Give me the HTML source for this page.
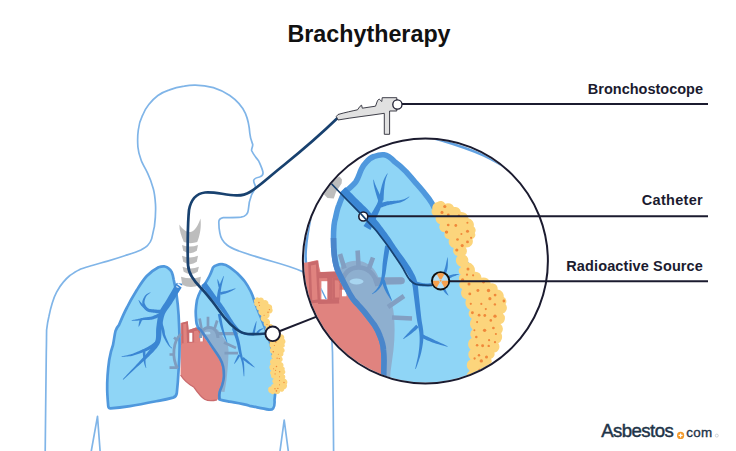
<!DOCTYPE html>
<html>
<head>
<meta charset="utf-8">
<style>
html,body{margin:0;padding:0;background:#fff;}
body{width:736px;height:451px;overflow:hidden;position:relative;}
svg{position:absolute;left:0;top:0;display:block;}
text{font-family:"Liberation Sans",sans-serif;}
</style>
</head>
<body>
<svg width="736" height="451" viewBox="0 0 736 451">
<defs>
  <clipPath id="slot1"><rect x="321.4" y="281.2" width="5.9" height="18.1"/></clipPath>
  <clipPath id="bigc"><circle cx="425.4" cy="261" r="121.5"/></clipPath>
</defs>
<rect width="736" height="451" fill="#fff"/>

<!-- ============ BODY OUTLINE ============ -->
<g fill="none" stroke="#80b5e8" stroke-width="1.7" stroke-linejoin="round" stroke-linecap="round">
  <path d="M45.2,451 C45.5,420 46,380 46.3,352 C46.5,345 46.5,337 46.6,330 C47.2,325 48,320 48.9,316.5 C50,311 51,307 52.2,303.2 C53.5,299 55,295 56.6,292.1 C58.5,288.5 60.8,285 63.3,282.1 C65.5,279.5 67.5,277.5 69.9,275.5 C73,273.3 75.8,271.3 78.8,269.9 C83,267.8 87.5,266.8 92.1,265.5 C97,264 102.5,262.6 107.6,261.1 C113.5,259.3 119.5,257.4 125.4,255.5 C130.5,253.9 136,252.3 140.9,250 C143.5,248.6 146,247.3 147.6,245.5 C149.5,243.4 151,241.3 151.6,238.9 C152.4,236 153.5,230 154.4,226.6 C155.5,218 155.8,210 155.5,204.4 C155,197 154.5,193 153.3,188.8 C151.5,182 149.5,177 147.7,173.3 C144.5,167 142,163 141.1,160 C139.6,156 138.3,152 137.9,147 C137.6,143 137.6,135 138.3,130 C138.9,125 140.5,119.5 142.4,115.7 C144,111.5 146,108 148.6,104.8 C151.5,101 154.5,98 157.9,95.5 C161.5,93 165,91.3 168.8,90.1 C174,88 179,86.8 184.3,86.2 C188,85.6 191,85.3 194.3,85.2 C208,85 220,89 229.8,95.5 C237,100.5 242,106 245.4,113.3 C248,119.5 249.3,126 249.8,133.3 C250.2,138 251.5,141 252.7,144.3 C253,147 251.3,148.5 251.6,150.5 C253.5,155 256.5,158 258.7,161 C260.5,165 262.5,169 263,172.5 C263.2,175 262,176.3 259.5,177 C256.5,177.6 254.5,178.3 253.8,180 C253,182.5 255.6,184.5 255.4,187 C255,190 252.5,192 251.5,195 C249.5,200 248.5,205 248.3,210 C248,214 245.5,216.5 240.9,217.2 C235,217.8 228,217.5 223.2,217.7 C220,218.2 218.8,220 218.8,222.1 C218.8,226 219.2,230 219.9,233.2 C220.5,237 223,242 227,245 C230,247.5 234,249 239,251 C250,255 262,258.5 273.4,261.8 C283,264.5 294,268 302.7,271.6 C310,275 316,279 320.7,283.8 C325,289 327.5,296 328.5,303.4 C330.5,318 331.8,335 332.5,352 C333,380 333.3,420 333.6,451"/>
  <path d="M91.3,451 L97.5,416.4 L100.1,451"/>
  <path d="M280,451 L284.2,420.2 L288.3,451"/>
</g>

<!-- ============ SPINE ============ -->
<g fill="#bdbdbd">
  <path d="M179.3,224.5 C183,229.5 186.5,232.5 190.5,232 C195,231 198.5,224.5 200.5,218.4 C201.5,227 200,235 197.2,242 C193,243.5 188,243.5 183.8,242 C181.3,236 179.3,230.5 179.3,224.5 Z"/>
  <path d="M182.0,245.0 Q190.0,248.2 198.0,245.0 L196.8,250.8 Q190.0,255.6 183.2,250.8 Z"/>
  <path d="M182.0,255.8 Q190.0,259.0 198.0,255.8 L196.8,261.8 Q190.0,266.6 183.2,261.8 Z"/>
  <path d="M182.5,266.8 Q190.7,270.0 198.9,266.8 L197.7,271.7 Q190.7,276.5 183.7,271.7 Z"/>
  <path d="M181.0,276.7 Q190.9,279.9 200.9,276.7 L199.7,284.7 Q190.9,289.5 182.2,284.7 Z"/>
</g>

<!-- ============ HEART (small) ============ -->
<g>
  <path d="M180.6,323 L187.8,321.3 L188.6,330 L196,327.5 L199,327.6 L205,338 C210,346 217,354 221,362 C224.5,370 225,383 223,392 C221.5,397 219.5,399.5 217,399.8 C213,400.8 208,401 204.6,399.2 C201,397 198,393 194,387.3 C190,385 184,380.5 180.6,375 Z" fill="#e0837f"/>
  <path d="M180.6,375 C184,380.5 190,385 194,387.3 C198,393 201,397 204.6,399.2 C208,401 213,400.8 217,399.8" fill="none" stroke="#c96a6c" stroke-width="1.3"/>
  <path d="M181.5,323 L187.8,321.3 L188.6,330 L196,327.5 L199,327.6 L203.5,336 L203.5,344 L181.5,345 Z" fill="#c96a6c"/>
  <path d="M183.2,324.2 L186.3,323.5 L187.1,343.5 L183.6,343.7 Z" fill="#e0837f"/>
  <path d="M194,331.2 L197.6,330.4 L199.8,334 L200,342.5 L194.2,342.8 Z" fill="#e0837f"/>
  <rect x="189.3" y="332.8" width="3" height="9" fill="#fff"/>
  <rect x="200.2" y="335.5" width="2.6" height="6.2" fill="#fff"/>
  <path d="M181.5,343.5 L204,341.5 L206,346 L182,347.5 Z" fill="#e0837f"/>
</g>

<!-- ============ LUNGS (small) ============ -->
<g stroke="#4f98dd" stroke-width="2.7" stroke-linejoin="round">
  <path fill="#8fd5f6" d="M164,266.3 C166,266.8 167.5,267.3 168.2,268.2 C170,269.5 171,270.5 171.7,272 C172.7,274.5 173.2,276.5 173.6,279.3 C174.8,284.5 175.8,290 176.6,295 C177.5,301.5 178.2,308 178.6,315 C179.2,325 179.5,335 179.6,345 C179.6,353 179.2,362 178.6,370 C178.2,378 177.6,386 176.8,393 C176.5,395.5 175,397 173,397.6 C168.5,398.8 164,399.8 159.7,400.6 C150,402.5 140,404.5 130,406.2 C123.5,407.2 117,408 110.5,408.4 C109,408.4 108.3,407.5 108.2,406 C107.7,400 107.3,395 107.2,390 C107,380 107.8,370 109.2,360 C110.2,354 111.5,349 113,345 C114,340 114.5,335 115.5,331 C116.5,328.5 117.5,326.5 119,325 C121.5,319 124,313 127,307.5 C130,301.5 133.5,295.5 137,289.8 C140,285 143,280 146.8,276 C150.5,272 154,269.5 158.5,267.2 C160.5,266.5 162,266.2 164,266.3 Z"/>
  <path fill="#8fd5f6" d="M216.5,265.2 C219,264.3 221,264 222,264.2 C225,264.5 227.5,265.8 229.5,267.2 C232,269 234.5,271 237,273 C239.8,275.8 242.5,278.5 244.8,281.5 C247,284.5 249,288 250.8,291.5 C252,294 253,296.5 253.8,299.3 C255.5,304 257,308 259,313 C262,320 265,328 268,336 C270.5,343 272.5,352 273.8,360 C275,368 275.8,376 275.8,384 C275.8,390 275,395 274.5,400 C274.8,404 274.7,406.5 273.2,408.3 C272.2,409.5 270.5,409.8 269,409.6 C262,408.5 256,407 249.5,405.8 C243,403.7 236,402.8 229.5,401.6 C226,401 222.5,400.5 219.5,399.5 C219,396 219.3,393 219.9,391.4 C221,388.5 222,386.5 222.4,384.8 C223.5,381 224,379 224,376.5 C224.2,372 223.8,369 223.2,366.5 C222.3,363 221.2,360.5 219.9,358.2 C217.8,354.8 215.5,351.5 213.3,348.3 C211,345 208.8,341.5 206.6,338.3 C204.6,335.5 202.5,332.5 200.8,330 C199.5,329 198.5,328.3 198,327.5 C196.5,324 196,322 196.2,320 C195.8,316 195.6,313 195.8,310 C196,306 196.5,303 197,300 C198,296 199,294 200.5,291 C202,288.5 203.5,286.5 205,284 C206.5,281.5 208,279 209.5,276 C211,273 212,270 213,267.5 C214,266.2 215,265.6 216.5,265.2 Z"/>
</g>
<!-- heart behind left lung (gray-blue) -->
<path d="M200.5,333 C203,326 212,324 218,330 L221,334 L222,335.5 C226,340 228.5,345 228.5,350 C228.5,360 227.5,372 226.5,380 C225.8,385 225,389 224.5,392 L219.9,391.4 C221,388.5 222,386.5 222.4,384.8 C223.5,381 224,379 224,376.5 C224.2,372 223.8,369 223.2,366.5 C222.3,363 221.2,360.5 219.9,358.2 C217.8,354.8 215.5,351.5 213.3,348.3 C211,345 208.8,341.5 206.6,338.3 C204.6,335.5 202.5,332.5 200.8,330 Z" fill="#8eafcf"/>
<!-- vessels gray-blue -->
<g fill="none" stroke="#7f9dbf" stroke-linecap="butt">
  <path d="M200.5,338 C200.5,331 204.5,327.5 209,327.5 C213.5,327.5 217.5,331 218,338" stroke-width="3"/>
  <path d="M201.6,329.5 L199.6,318.5 M208,327.5 L208,316.8 M214.3,329.5 L217.2,320.5" stroke-width="2.7"/>
  <path d="M217.5,333.6 L236.5,333.6" stroke-width="3.3" stroke-linecap="round"/>
  <path d="M224,342.5 L236,348 M224.5,353.2 L238,353.2" stroke-width="2.7"/>
  <path d="M181,334 C173,341 171.5,357 177.5,368.5" stroke-width="2.8"/>
  <path d="M169.5,354.5 L173.5,354.5 M169.5,367.6 L177,367.6 M174,337.5 L177.5,340.5" stroke-width="2.7"/>
</g>
<ellipse cx="207.6" cy="333.2" rx="3" ry="1.4" fill="#aad6f2"/>
<!-- lung medial edge (left lung) redraw -->
<path fill="none" stroke="#4a86cb" stroke-width="2.4" d="M219.5,399.5 C219,396 219.3,393 219.9,391.4 C221,388.5 222,386.5 222.4,384.8 C223.5,381 224,379 224,376.5 C224.2,372 223.8,369 223.2,366.5 C222.3,363 221.2,360.5 219.9,358.2 C217.8,354.8 215.5,351.5 213.3,348.3 C211,345 208.8,341.5 206.6,338.3 C204.6,335.5 202.5,332.5 200.8,330 C199.5,329 198.5,328.3 198,327.5"/>

<!-- bronchi small -->
<path fill="#3b86d3" d="M176.34,283.38 L177.07,282.72 L182.35,285.80 L181.72,283.50 L176.39,283.25 L176.04,283.70 L175.78,284.10 L175.42,284.68 L174.89,285.54 L174.17,286.79 L173.26,288.37 L172.20,290.21 L171.04,292.21 L169.83,294.28 L168.64,296.34 L167.50,298.29 L166.48,300.01 L165.56,301.50 L164.62,302.90 L163.67,304.28 L162.70,305.68 L161.74,307.13 L160.82,308.67 L159.96,310.32 L159.21,312.10 L158.58,313.97 L158.08,315.88 L157.67,317.80 L157.34,319.72 L157.05,321.64 L156.80,323.53 L156.57,325.38 L156.32,327.24 L156.14,329.19 L156.07,331.16 L156.06,333.06 L156.06,334.88 L156.02,336.61 L155.89,338.23 L155.65,339.72 L155.26,341.11 L154.72,342.48 L154.03,343.85 L153.18,345.22 L152.21,346.60 L151.14,347.99 L149.99,349.41 L148.79,350.86 L147.58,352.34 L146.40,353.80 L145.18,355.23 L143.90,356.66 L142.57,358.10 L141.19,359.57 L139.75,361.09 L138.26,362.67 L136.73,364.32 L135.03,366.15 L133.11,368.20 L131.08,370.35 L129.04,372.52 L127.08,374.60 L125.32,376.49 L123.86,378.09 L122.79,379.29 L123.21,379.71 L124.42,378.65 L126.03,377.20 L127.93,375.45 L130.02,373.52 L132.21,371.49 L134.38,369.47 L136.44,367.57 L138.27,365.88 L139.94,364.38 L141.56,362.96 L143.13,361.59 L144.66,360.25 L146.16,358.93 L147.62,357.60 L149.04,356.24 L150.42,354.86 L151.74,353.49 L153.05,352.14 L154.36,350.77 L155.64,349.36 L156.86,347.90 L158.01,346.35 L159.04,344.69 L159.94,342.89 L160.58,340.94 L160.99,338.96 L161.23,337.00 L161.35,335.07 L161.43,333.19 L161.52,331.37 L161.65,329.65 L161.88,327.96 L162.16,326.18 L162.45,324.34 L162.74,322.51 L163.05,320.72 L163.40,318.98 L163.80,317.32 L164.26,315.75 L164.79,314.30 L165.40,312.97 L166.11,311.71 L166.90,310.48 L167.79,309.22 L168.75,307.91 L169.78,306.52 L170.85,305.01 L171.92,303.39 L173.02,301.62 L174.21,299.68 L175.46,297.63 L176.71,295.58 L177.91,293.60 L179.02,291.79 L179.97,290.25 L180.71,289.06 L181.21,288.24 L181.52,287.75 L181.65,287.54 L181.48,287.75 L176.21,287.48 L175.57,285.26 L180.84,288.38 L181.66,287.62 Z"/>
<path fill="#3b86d3"  d="M162.94,310.01 L162.19,309.95 L161.18,309.88 L159.99,309.80 L158.68,309.72 L157.32,309.63 L156.00,309.53 L154.78,309.43 L153.72,309.31 L152.74,309.21 L151.82,309.14 L150.99,309.08 L150.26,309.01 L149.63,308.92 L149.08,308.78 L148.60,308.59 L148.13,308.31 L147.61,307.88 L147.04,307.31 L146.47,306.64 L145.93,305.89 L145.45,305.11 L145.04,304.32 L144.74,303.56 L144.56,302.88 L144.50,302.18 L144.55,301.39 L144.69,300.54 L144.92,299.65 L145.21,298.76 L145.55,297.90 L145.92,297.10 L146.28,296.41 L146.69,295.80 L147.20,295.22 L147.80,294.67 L148.45,294.15 L149.08,293.68 L149.67,293.26 L150.17,292.90 L150.54,292.61 L150.26,292.19 L149.87,292.41 L149.33,292.68 L148.67,293.00 L147.94,293.38 L147.18,293.82 L146.43,294.33 L145.72,294.92 L145.12,295.59 L144.59,296.33 L144.08,297.14 L143.58,298.04 L143.12,298.99 L142.73,299.99 L142.43,301.02 L142.26,302.07 L142.24,303.12 L142.39,304.18 L142.68,305.23 L143.09,306.28 L143.60,307.29 L144.18,308.26 L144.82,309.17 L145.52,309.98 L146.27,310.69 L147.10,311.28 L147.98,311.71 L148.87,312.00 L149.75,312.20 L150.63,312.33 L151.49,312.44 L152.36,312.55 L153.28,312.69 L154.39,312.85 L155.67,313.00 L157.03,313.14 L158.41,313.27 L159.73,313.38 L160.93,313.46 L161.93,313.54 L162.66,313.59 Z"/>
<path fill="#3b86d3"  d="M148.03,308.50 L147.61,308.15 L147.03,307.69 L146.35,307.17 L145.60,306.60 L144.81,306.00 L144.05,305.41 L143.34,304.84 L142.73,304.33 L142.19,303.81 L141.63,303.22 L141.08,302.60 L140.55,301.98 L140.05,301.39 L139.60,300.85 L139.21,300.40 L138.91,300.06 L138.49,300.34 L138.67,300.74 L138.90,301.29 L139.17,301.93 L139.50,302.65 L139.88,303.42 L140.30,304.19 L140.76,304.95 L141.27,305.67 L141.85,306.37 L142.53,307.09 L143.26,307.81 L144.02,308.50 L144.75,309.14 L145.41,309.70 L145.96,310.16 L146.37,310.50 Z"/>
<path fill="#3b86d3"  d="M158.83,313.44 L158.24,313.69 L157.46,314.05 L156.56,314.46 L155.58,314.91 L154.54,315.37 L153.51,315.80 L152.52,316.17 L151.62,316.46 L150.75,316.67 L149.83,316.84 L148.86,316.98 L147.87,317.09 L146.87,317.19 L145.87,317.30 L144.89,317.42 L143.95,317.57 L143.08,317.74 L142.27,317.92 L141.50,318.10 L140.76,318.29 L140.05,318.47 L139.34,318.65 L138.63,318.82 L137.89,318.99 L137.09,319.15 L136.22,319.32 L135.32,319.48 L134.42,319.65 L133.57,319.80 L132.81,319.94 L132.16,320.06 L131.68,320.15 L131.72,320.65 L132.21,320.65 L132.87,320.66 L133.65,320.67 L134.51,320.68 L135.43,320.68 L136.36,320.67 L137.26,320.65 L138.11,320.61 L138.89,320.56 L139.65,320.50 L140.40,320.42 L141.14,320.34 L141.88,320.25 L142.64,320.17 L143.43,320.10 L144.25,320.03 L145.12,319.99 L146.04,319.98 L147.03,319.97 L148.05,319.96 L149.11,319.93 L150.20,319.86 L151.29,319.73 L152.38,319.54 L153.50,319.24 L154.65,318.87 L155.80,318.44 L156.91,317.99 L157.95,317.54 L158.86,317.14 L159.61,316.80 L160.17,316.56 Z"/>
<path fill="#3b86d3"  d="M139.96,319.15 L139.84,319.51 L139.68,320.01 L139.51,320.60 L139.33,321.26 L139.16,321.95 L139.01,322.62 L138.89,323.24 L138.80,323.77 L138.73,324.23 L138.67,324.67 L138.62,325.08 L138.59,325.45 L138.56,325.79 L138.54,326.09 L138.52,326.34 L138.51,326.54 L138.89,326.66 L138.99,326.48 L139.12,326.26 L139.26,326.00 L139.43,325.71 L139.60,325.38 L139.79,325.02 L139.99,324.63 L140.20,324.23 L140.44,323.75 L140.71,323.18 L140.99,322.56 L141.27,321.91 L141.52,321.28 L141.74,320.70 L141.92,320.21 L142.04,319.85 Z"/>
<path fill="#3b86d3"  d="M159.07,322.46 L159.27,323.09 L159.55,323.95 L159.89,324.96 L160.26,326.08 L160.64,327.24 L161.02,328.38 L161.37,329.45 L161.65,330.36 L161.85,331.10 L161.99,331.76 L162.10,332.40 L162.21,333.06 L162.35,333.76 L162.54,334.54 L162.81,335.39 L163.19,336.34 L163.68,337.40 L164.29,338.59 L164.97,339.85 L165.71,341.15 L166.46,342.41 L167.20,343.60 L167.88,344.65 L168.50,345.52 L169.06,346.23 L169.60,346.80 L170.12,347.26 L170.60,347.62 L171.03,347.91 L171.40,348.14 L171.70,348.32 L171.94,348.49 L172.26,348.11 L172.04,347.89 L171.76,347.64 L171.44,347.36 L171.09,347.04 L170.71,346.64 L170.32,346.17 L169.91,345.58 L169.50,344.88 L169.05,343.97 L168.52,342.87 L167.95,341.62 L167.37,340.30 L166.79,338.97 L166.26,337.67 L165.79,336.48 L165.41,335.46 L165.16,334.64 L164.99,333.93 L164.89,333.30 L164.81,332.68 L164.75,332.03 L164.67,331.32 L164.54,330.53 L164.35,329.64 L164.09,328.65 L163.78,327.54 L163.44,326.36 L163.08,325.18 L162.73,324.05 L162.40,323.03 L162.13,322.17 L161.93,321.54 Z"/>
<path fill="#3b86d3"  d="M155.99,341.13 L155.44,341.54 L154.72,342.08 L153.86,342.73 L152.92,343.44 L151.94,344.18 L150.95,344.89 L150.01,345.55 L149.16,346.11 L148.38,346.57 L147.65,346.99 L146.95,347.37 L146.23,347.73 L145.47,348.09 L144.64,348.47 L143.71,348.89 L142.65,349.36 L141.44,349.91 L140.11,350.51 L138.69,351.16 L137.21,351.81 L135.72,352.46 L134.24,353.08 L132.81,353.64 L131.47,354.11 L130.13,354.52 L128.71,354.87 L127.27,355.19 L125.86,355.46 L124.54,355.71 L123.34,355.92 L122.33,356.10 L121.57,356.25 L121.63,356.75 L122.40,356.71 L123.42,356.68 L124.64,356.63 L126.00,356.57 L127.46,356.48 L128.97,356.34 L130.47,356.15 L131.93,355.89 L133.40,355.54 L134.94,355.11 L136.52,354.62 L138.10,354.10 L139.65,353.55 L141.14,353.01 L142.51,352.50 L143.75,352.04 L144.84,351.63 L145.81,351.26 L146.70,350.91 L147.53,350.56 L148.34,350.20 L149.14,349.81 L149.96,349.38 L150.84,348.89 L151.81,348.30 L152.85,347.62 L153.90,346.90 L154.93,346.16 L155.89,345.44 L156.76,344.80 L157.47,344.26 L158.01,343.87 Z"/>
<path fill="#3b86d3"  d="M142.70,351.07 L142.75,351.97 L142.83,353.20 L142.93,354.68 L143.07,356.30 L143.24,357.97 L143.43,359.59 L143.65,361.06 L143.87,362.30 L144.12,363.35 L144.40,364.30 L144.69,365.16 L144.99,365.93 L145.27,366.60 L145.53,367.18 L145.74,367.66 L145.91,368.05 L146.29,367.95 L146.23,367.52 L146.14,366.99 L146.02,366.37 L145.90,365.67 L145.78,364.89 L145.67,364.03 L145.58,363.10 L145.53,362.10 L145.50,360.90 L145.49,359.44 L145.48,357.84 L145.46,356.17 L145.43,354.56 L145.39,353.08 L145.34,351.83 L145.30,350.93 Z"/>
<path fill="#3b86d3"  d="M201.25,285.16 L201.92,286.06 L202.83,287.26 L203.93,288.70 L205.14,290.28 L206.41,291.94 L207.69,293.59 L208.90,295.14 L209.99,296.52 L210.98,297.76 L211.93,298.94 L212.86,300.06 L213.75,301.14 L214.63,302.19 L215.49,303.23 L216.35,304.28 L217.20,305.35 L218.07,306.45 L218.94,307.57 L219.81,308.70 L220.67,309.82 L221.52,310.93 L222.34,312.02 L223.14,313.09 L223.90,314.11 L224.62,315.09 L225.30,316.06 L225.96,317.00 L226.60,317.93 L227.23,318.84 L227.86,319.73 L228.48,320.61 L229.11,321.47 L229.72,322.29 L230.32,323.08 L230.90,323.84 L231.48,324.59 L232.06,325.33 L232.65,326.05 L233.26,326.76 L233.88,327.45 L234.50,328.13 L235.13,328.81 L235.76,329.49 L236.42,330.16 L237.10,330.81 L237.80,331.43 L238.53,332.01 L239.29,332.53 L240.05,333.00 L240.81,333.40 L241.59,333.77 L242.37,334.08 L243.18,334.37 L244.01,334.61 L244.87,334.83 L245.77,335.03 L246.79,335.20 L247.93,335.32 L249.12,335.41 L250.31,335.47 L251.44,335.51 L252.46,335.54 L253.31,335.57 L253.94,335.60 L254.06,334.00 L253.43,333.93 L252.57,333.85 L251.56,333.76 L250.44,333.64 L249.29,333.51 L248.17,333.36 L247.13,333.18 L246.23,332.97 L245.43,332.74 L244.66,332.49 L243.94,332.23 L243.25,331.94 L242.59,331.62 L241.95,331.28 L241.33,330.89 L240.71,330.47 L240.12,329.99 L239.54,329.47 L238.96,328.90 L238.39,328.28 L237.82,327.62 L237.26,326.94 L236.69,326.25 L236.12,325.55 L235.57,324.86 L235.05,324.16 L234.53,323.45 L234.02,322.72 L233.51,321.96 L232.98,321.18 L232.44,320.37 L231.89,319.53 L231.33,318.68 L230.78,317.80 L230.22,316.89 L229.65,315.95 L229.05,314.98 L228.43,313.98 L227.78,312.94 L227.10,311.89 L226.39,310.81 L225.64,309.69 L224.87,308.54 L224.08,307.37 L223.27,306.19 L222.45,305.00 L221.62,303.82 L220.80,302.65 L219.97,301.50 L219.15,300.38 L218.32,299.28 L217.50,298.18 L216.66,297.06 L215.80,295.92 L214.92,294.73 L214.01,293.48 L213.01,292.07 L211.88,290.48 L210.68,288.79 L209.48,287.09 L208.33,285.46 L207.29,283.99 L206.41,282.75 L205.75,281.84 Z"/>
<path fill="#3b86d3"  d="M220.00,302.71 L220.04,301.98 L220.10,300.99 L220.15,299.83 L220.21,298.54 L220.28,297.20 L220.35,295.87 L220.42,294.62 L220.52,293.50 L220.62,292.48 L220.73,291.52 L220.84,290.59 L220.97,289.67 L221.12,288.75 L221.28,287.82 L221.46,286.83 L221.67,285.80 L221.92,284.64 L222.22,283.35 L222.55,281.97 L222.90,280.59 L223.22,279.26 L223.52,278.05 L223.76,277.04 L223.94,276.28 L223.46,276.12 L223.14,276.82 L222.70,277.76 L222.17,278.89 L221.60,280.14 L221.02,281.46 L220.46,282.78 L219.96,284.05 L219.53,285.20 L219.18,286.24 L218.87,287.23 L218.58,288.18 L218.33,289.13 L218.09,290.08 L217.88,291.04 L217.68,292.04 L217.48,293.10 L217.30,294.29 L217.14,295.60 L217.01,296.97 L216.89,298.33 L216.79,299.63 L216.71,300.80 L216.65,301.77 L216.60,302.49 Z"/>
<path fill="#3b86d3"  d="M220.49,294.77 L221.05,294.64 L221.79,294.47 L222.69,294.26 L223.69,294.02 L224.75,293.74 L225.84,293.42 L226.91,293.08 L227.93,292.71 L228.94,292.29 L230.03,291.79 L231.14,291.24 L232.22,290.67 L233.25,290.11 L234.16,289.59 L234.92,289.16 L235.49,288.83 L235.31,288.37 L234.67,288.54 L233.82,288.78 L232.81,289.08 L231.70,289.41 L230.54,289.76 L229.38,290.10 L228.27,290.42 L227.27,290.69 L226.30,290.92 L225.25,291.14 L224.19,291.36 L223.14,291.57 L222.14,291.76 L221.25,291.94 L220.49,292.10 L219.91,292.23 Z"/>
<path fill="#3b86d3"  d="M220.56,286.74 L220.29,285.78 L219.99,284.83 L219.67,283.88 L219.32,282.94 L218.95,282.01 L218.56,281.08 L218.14,280.16 L217.69,279.25 L217.31,279.35 L217.39,280.36 L217.49,281.37 L217.62,282.37 L217.78,283.36 L217.96,284.35 L218.16,285.32 L218.38,286.30 L218.64,287.26 Z"/>
<path fill="#3b86d3"  d="M217.83,314.27 L218.03,315.27 L218.30,316.62 L218.63,318.23 L219.00,320.01 L219.41,321.86 L219.83,323.69 L220.25,325.39 L220.65,326.88 L221.03,328.19 L221.42,329.41 L221.81,330.55 L222.20,331.64 L222.60,332.68 L222.99,333.69 L223.38,334.67 L223.78,335.65 L224.20,336.65 L224.65,337.68 L225.11,338.70 L225.57,339.68 L226.00,340.58 L226.39,341.39 L226.72,342.07 L226.97,342.59 L227.43,342.41 L227.27,341.86 L227.04,341.13 L226.77,340.28 L226.47,339.32 L226.15,338.30 L225.83,337.24 L225.51,336.18 L225.22,335.15 L224.94,334.14 L224.66,333.13 L224.37,332.10 L224.08,331.05 L223.80,329.95 L223.51,328.81 L223.23,327.60 L222.95,326.32 L222.65,324.85 L222.33,323.16 L222.00,321.33 L221.66,319.49 L221.33,317.70 L221.03,316.09 L220.77,314.73 L220.57,313.73 Z"/>
<path fill="#3b86d3"  d="M231.89,328.56 L232.24,329.55 L232.71,330.88 L233.28,332.44 L233.90,334.18 L234.55,336.00 L235.18,337.84 L235.76,339.60 L236.26,341.22 L236.68,342.75 L237.06,344.30 L237.42,345.85 L237.75,347.41 L238.08,348.96 L238.41,350.50 L238.76,352.01 L239.12,353.50 L239.52,354.92 L239.94,356.26 L240.36,357.56 L240.77,358.81 L241.17,360.05 L241.55,361.31 L241.89,362.59 L242.20,363.94 L242.46,365.44 L242.71,367.13 L242.93,368.91 L243.12,370.70 L243.30,372.40 L243.46,373.95 L243.59,375.25 L243.70,376.22 L244.30,376.18 L244.30,375.21 L244.31,373.91 L244.31,372.35 L244.31,370.63 L244.29,368.82 L244.24,367.00 L244.15,365.25 L244.00,363.66 L243.80,362.21 L243.55,360.82 L243.26,359.49 L242.94,358.19 L242.61,356.90 L242.29,355.60 L241.97,354.28 L241.68,352.90 L241.41,351.46 L241.15,349.97 L240.90,348.43 L240.65,346.86 L240.37,345.26 L240.07,343.64 L239.73,342.01 L239.34,340.38 L238.87,338.66 L238.31,336.82 L237.70,334.93 L237.07,333.07 L236.47,331.32 L235.91,329.74 L235.45,328.43 L235.11,327.44 Z"/>
<path fill="#3b86d3"  d="M238.34,354.46 L238.12,354.86 L237.83,355.40 L237.50,356.04 L237.13,356.76 L236.77,357.51 L236.41,358.25 L236.08,358.96 L235.80,359.59 L235.53,360.18 L235.26,360.78 L235.00,361.38 L234.75,361.95 L234.52,362.49 L234.32,362.97 L234.15,363.38 L234.03,363.70 L234.37,363.90 L234.59,363.65 L234.88,363.32 L235.22,362.92 L235.60,362.47 L236.00,361.98 L236.41,361.47 L236.82,360.94 L237.20,360.41 L237.61,359.83 L238.05,359.18 L238.51,358.48 L238.95,357.77 L239.37,357.08 L239.74,356.46 L240.04,355.93 L240.26,355.54 Z"/>
<path fill="#3b86d3"  d="M242.04,358.93 L242.53,359.32 L243.18,359.84 L243.96,360.45 L244.83,361.12 L245.75,361.81 L246.69,362.50 L247.60,363.14 L248.43,363.72 L249.25,364.27 L250.11,364.83 L250.99,365.38 L251.85,365.91 L252.66,366.40 L253.39,366.83 L254.01,367.19 L254.48,367.46 L254.72,367.14 L254.34,366.76 L253.83,366.26 L253.21,365.67 L252.53,365.02 L251.79,364.32 L251.04,363.62 L250.29,362.93 L249.57,362.28 L248.83,361.60 L248.00,360.86 L247.14,360.10 L246.27,359.34 L245.44,358.63 L244.68,357.99 L244.04,357.46 L243.56,357.07 Z"/>
<path fill="#3b86d3"  d="M254.57,333.75 L254.69,333.24 L254.84,332.56 L255.01,331.74 L255.19,330.84 L255.36,329.89 L255.53,328.94 L255.69,328.03 L255.82,327.20 L255.95,326.39 L256.07,325.55 L256.19,324.70 L256.30,323.87 L256.40,323.09 L256.48,322.39 L256.55,321.80 L256.59,321.35 L256.21,321.25 L256.04,321.67 L255.82,322.22 L255.56,322.88 L255.28,323.62 L254.99,324.41 L254.71,325.22 L254.43,326.03 L254.18,326.80 L253.93,327.61 L253.66,328.50 L253.39,329.44 L253.14,330.37 L252.91,331.26 L252.71,332.07 L252.55,332.75 L252.43,333.25 Z"/>
<path fill="#3b86d3"  d="M257.73,333.69 L257.96,333.44 L258.26,333.09 L258.61,332.69 L258.98,332.25 L259.36,331.80 L259.75,331.36 L260.12,330.96 L260.45,330.64 L260.80,330.35 L261.21,330.05 L261.67,329.76 L262.13,329.47 L262.57,329.21 L262.98,328.96 L263.32,328.75 L263.58,328.58 L263.42,328.22 L263.13,328.27 L262.74,328.35 L262.27,328.44 L261.75,328.55 L261.19,328.70 L260.63,328.88 L260.07,329.10 L259.55,329.36 L259.04,329.69 L258.54,330.08 L258.05,330.51 L257.58,330.95 L257.16,331.37 L256.79,331.76 L256.49,332.08 L256.27,332.31 Z"/>

<!-- tumor small -->
<path fill="#fcd57c" d="M259.0,298.0 A3.1,3.1 0 0 1 263.9,300.3 A3.5,3.5 0 0 1 268.5,303.9 A3.8,3.8 0 0 1 272.1,308.5 A3.3,3.3 0 0 1 269.2,313.6 A3.6,3.6 0 0 1 267.1,318.6 A3.7,3.7 0 0 1 269.5,324.2 A2.3,2.3 0 0 1 272.8,326.2 A3.4,3.4 0 0 1 276.5,329.5 A4.0,4.0 0 0 1 280.8,334.2 A3.4,3.4 0 0 1 284.1,338.7 A3.5,3.5 0 0 1 284.3,344.1 A2.6,2.6 0 0 1 283.0,347.8 A2.8,2.8 0 0 1 283.2,352.8 A3.1,3.1 0 0 1 281.3,356.8 A2.9,2.9 0 0 1 281.0,361.9 A3.5,3.5 0 0 1 283.2,366.7 A2.5,2.5 0 0 1 284.4,370.1 A2.4,2.4 0 0 1 283.6,374.3 A3.0,3.0 0 0 1 284.7,378.5 A3.8,3.8 0 0 1 286.7,384.3 A3.7,3.7 0 0 1 284.1,389.4 A2.3,2.3 0 0 1 280.4,391.3 A3.3,3.3 0 0 1 274.9,393.2 A2.4,2.4 0 0 1 270.8,393.2 A3.0,3.0 0 0 1 268.3,389.7 A2.4,2.4 0 0 1 271.2,386.7 A2.5,2.5 0 0 1 273.6,383.9 A3.9,3.9 0 0 1 273.7,378.4 A3.0,3.0 0 0 1 271.0,375.0 A2.6,2.6 0 0 1 271.4,370.7 A3.9,3.9 0 0 1 270.8,364.3 A3.9,3.9 0 0 1 272.4,358.4 A3.0,3.0 0 0 1 272.4,354.0 A3.7,3.7 0 0 1 271.0,347.8 A3.5,3.5 0 0 1 270.2,342.6 A3.8,3.8 0 0 1 269.3,337.0 A3.0,3.0 0 0 1 268.5,332.8 A3.6,3.6 0 0 1 266.4,326.8 A4.0,4.0 0 0 1 263.8,321.9 A3.6,3.6 0 0 1 261.7,315.8 A3.8,3.8 0 0 1 258.8,310.4 A3.0,3.0 0 0 1 256.5,306.5 A3.3,3.3 0 0 1 254.4,302.2 A2.1,2.1 0 0 1 254.9,298.9 A2.9,2.9 0 0 1 259.0,298.0 Z"/>
<g fill="#f0883a"><circle cx="271.7" cy="327.7" r="0.60"/><circle cx="259.4" cy="305.4" r="0.54"/><circle cx="258.9" cy="302.6" r="0.80"/><circle cx="271.3" cy="336.6" r="0.57"/><circle cx="277.9" cy="388.4" r="0.69"/><circle cx="268.0" cy="312.2" r="0.75"/><circle cx="269.5" cy="325.7" r="0.62"/><circle cx="274.4" cy="345.5" r="0.60"/><circle cx="279.5" cy="380.6" r="0.61"/><circle cx="279.7" cy="371.8" r="0.71"/><circle cx="275.6" cy="370.3" r="0.61"/><circle cx="275.9" cy="342.1" r="0.75"/><circle cx="275.1" cy="373.9" r="0.60"/><circle cx="276.4" cy="390.9" r="0.79"/><circle cx="276.5" cy="366.5" r="0.72"/><circle cx="279.3" cy="358.6" r="0.72"/><circle cx="264.1" cy="315.3" r="0.56"/><circle cx="267.0" cy="324.5" r="0.62"/><circle cx="271.7" cy="330.3" r="0.67"/><circle cx="274.9" cy="333.2" r="0.54"/><circle cx="273.3" cy="351.7" r="0.79"/><circle cx="269.4" cy="309.6" r="0.69"/><circle cx="279.5" cy="376.7" r="0.50"/><circle cx="273.6" cy="368.8" r="0.54"/><circle cx="278.3" cy="354.2" r="0.51"/><circle cx="284.0" cy="382.5" r="0.66"/><circle cx="277.1" cy="358.2" r="0.64"/><circle cx="279.5" cy="384.7" r="0.54"/><circle cx="275.0" cy="388.7" r="0.71"/><circle cx="273.8" cy="337.4" r="0.55"/></g>

<!-- catheter small -->
<path fill="none" stroke="#18416f" stroke-width="2.7" stroke-linecap="round" stroke-linejoin="round"
 d="M337,118.5 C320,135 300,152 284,165 C270,176 260,186 250,192 C245,195 240,195.5 236.5,195.4 C225,195 214,191.5 205,192.5 C197,193.5 191,199 189,210 C187.5,225 187.5,255 188,265 C188.6,271 190,274 192,277 C194.5,281 197,284 200,287 C205,292 208,296 212,301 C216,306 220,312 224,317 C228,322 232,326 236,329 C240,332 244,333.8 248,334 C255,334.3 260,334 266,333.5"/>

<!-- bronchoscope -->
<g stroke="#2a2a35" stroke-width="0.9" stroke-linejoin="round" fill="#e1e1e1">
  <path d="M336.3,116.5 L338,114.5 C345,112.5 352,111 357.5,109.8 L360,106.3 L361.6,105.2 L362.3,108.2 C367,107.5 371,106.8 375.5,106.2 L377.6,100.4 L379.2,99.1 L381.8,101.5 L382.2,97.7 L396.8,97.7 L396.8,111 L389.6,111 L389.6,134.3 L384.3,134.3 L384.3,113.3 C370,115.5 352,117.5 338,120 Z"/>
</g>
<circle cx="397.4" cy="104.5" r="4.6" fill="#fff" stroke="#1b1b2f" stroke-width="1.3"/>

<!-- ============ BIG CIRCLE ============ -->
<circle cx="425.4" cy="261" r="121.5" fill="#fff"/>
<g clip-path="url(#bigc)">
  <!-- magnified body outline -->
  <g fill="none" stroke="#62a2e2" stroke-width="2.6">
    <path d="M311,215 C309,225 306.5,238 305.8,250 C305.3,258 305.5,262 306.5,266 C310,275 316,283 322.4,291.6 L326,299"/>
    <path d="M425,136 L441,140.3 C455,144.5 470,149.5 484,155.5 C500,163 520,176 540,192"/>
  </g>
  <!-- heart big -->
  <path fill="#e0837f" d="M300,263 L306.5,262.5 L317.5,260 L320.5,272 L337,271.5 L339,272 C341,277 345,285 349.3,293 C352,298 354,301 357.5,304 C361,308 364,311 366.5,314.5 C370,319 372,322 374.5,325 C377,329 379,333 380,336 C382,341 383.3,346 383.5,350 C384.2,356 384.2,360 384,365 L384,400 L300,400 Z"/>
  <!-- heart tubes darker -->
  <g fill="#c96a6c">
    <path d="M308.2,262.5 L318.3,260.6 L320.2,302.5 L309.6,303.5 Z"/>
    <path d="M318.3,272.2 L337.5,271.5 L338.5,277.8 L318.5,278.3 Z"/>
    <path d="M327.2,277 L332.5,277 L332.7,302.5 L327.4,302.5 Z"/>
    <path d="M318,299.6 L339,299.2 L339.2,303.6 L318,304 Z"/>
    <path d="M332.4,277.5 L339.5,277.6 L342,282 L342,289.7 L339.6,289.7 L339.4,299.8 L332.6,299.8 Z"/>
  </g>
  <path fill="#e0837f" d="M310.9,265.6 L315.9,264.5 L317.6,299.6 L312.2,300.2 Z"/>
  <path fill="#e0837f" d="M334.8,280.3 L338.3,280.5 L339.6,283.2 L339.4,297.6 L335,297.6 Z"/>
  <rect x="321.4" y="281.2" width="5.9" height="18.1" fill="#fff"/>
  <path d="M317.6,282 L326.4,299.6" stroke="#62a2e2" stroke-width="1.3" clip-path="url(#slot1)"/>
  <rect x="342" y="289.7" width="4.5" height="6.6" fill="#fff"/>
  <!-- lung big -->
  <path fill="#8fd5f6" stroke="#4f98dd" stroke-width="5.6" stroke-linejoin="round"
   d="M333.5,238 C333.5,228 334,222 335.5,218 C337,211 337.5,208 339,205 C340.5,201 341.5,198 343,195 C345,192 346.5,190.5 348.5,189 C351.5,186.5 354,184.5 356,181.5 C358.5,177.5 359.5,173 361.5,169 C363,166 364,164.5 366,162.5 C368.5,159.5 371,157.5 374,156.5 C378,155 381,154.4 384,154.8 C388,155.5 391.5,158.5 394.4,161.5 C398.5,164.5 402.5,168 406,171.6 C409.5,175.5 413,179.5 416,183.2 C419,186.5 422,190 424.7,193.3 C427.5,196.5 430,200 432,203.4 C436,212 441,218 445,224 C451,232 456,240 459,248 C462,258 468,266 474,280 C480,292 486,305 487,320 C488,340 485,360 482,380 L478,400 L383.5,400 C383.5,380 383.8,372 384,365 C384.2,360 384.2,356 383.5,350 C383.3,346 382,341 380,336 C379,333 377,329 374.5,325 C372,322 370,319 366.5,314.5 C364,311 361,308 357.5,304 C354,301 352,298 349.3,293 C345,285 341,277 338.5,272 C334.5,264 333.5,252 333.5,238 Z"/>
  <!-- gray-blue heart behind lung -->
  <path fill="#8eafcf" d="M338.5,272 C341,263 350,260 359,261 C368,262 375,268 378.5,277.5 L401,277 C403.5,277 404.5,279 404.5,280.8 C404.5,282.5 403.5,284.5 401,284.5 L385,285 C388.5,292 391.5,300 393.3,310 C395,322 395,336 393.5,350 L390.5,372 L389,400 L383.5,400 C383.5,380 383.8,372 384,365 C384.2,360 384.2,356 383.5,350 C383.3,346 382,341 380,336 C379,333 377,329 374.5,325 C372,322 370,319 366.5,314.5 C364,311 361,308 357.5,304 C354,301 352,298 349.3,293 C345,285 341,277 338.5,272 Z"/>
  <!-- vessels gray-blue spokes -->
  <g fill="none" stroke="#829fc2" stroke-width="4.6" stroke-linecap="butt">
    <path d="M342.5,283 C343,273 350,267.5 358.5,267.5 C367,267.5 375,273 377.5,286"/>
    <path d="M344.5,268.5 L340,254 M358.5,266 L357.6,250.5 M369,268.5 L373,257.5"/>
    <path d="M388,307 L404,296 M392,317.5 L412,318.5"/>
  </g>
  <path d="M377,280.8 L401.5,280.8" stroke="#829fc2" stroke-width="6.6" stroke-linecap="round"/>
  <ellipse cx="356.5" cy="281.5" rx="7" ry="2.9" fill="#a8d5f0"/>
  <!-- lung medial edge redraw over gray -->
  <path fill="none" stroke="#4a86cb" stroke-width="5.6" d="M333.5,238 C333.5,252 334.5,264 338.5,272 C341,277 345,285 349.3,293 C352,298 354,301 357.5,304 C361,308 364,311 366.5,314.5 C370,319 372,322 374.5,325 C377,329 379,333 380,336 C382,341 383.3,346 383.5,350 C384.2,356 384.2,360 384,365 C383.8,372 383.5,380 383.5,400"/>
  <!-- bronchi big -->
<path fill="#3b86d3" d="M339.67,192.83 L340.56,193.72 L341.74,194.90 L343.14,196.31 L344.71,197.87 L346.36,199.52 L348.04,201.20 L349.66,202.83 L351.18,204.34 L352.64,205.78 L354.10,207.19 L355.55,208.58 L356.98,209.96 L358.39,211.33 L359.77,212.71 L361.13,214.10 L362.46,215.51 L363.78,216.96 L365.10,218.43 L366.40,219.94 L367.70,221.47 L368.99,223.02 L370.28,224.58 L371.57,226.16 L372.86,227.74 L374.15,229.31 L375.44,230.89 L376.73,232.48 L378.00,234.07 L379.27,235.67 L380.51,237.27 L381.74,238.86 L382.95,240.45 L384.12,242.02 L385.27,243.62 L386.41,245.22 L387.54,246.84 L388.68,248.46 L389.82,250.08 L390.97,251.69 L392.14,253.29 L393.34,254.87 L394.56,256.44 L395.79,258.00 L397.01,259.52 L398.19,261.01 L399.32,262.44 L400.39,263.81 L401.39,265.11 L402.30,266.35 L403.16,267.51 L403.96,268.60 L404.70,269.63 L405.40,270.64 L406.08,271.64 L406.73,272.66 L407.38,273.74 L408.05,274.87 L408.71,275.96 L409.32,277.00 L409.89,278.03 L410.42,279.08 L410.92,280.19 L411.37,281.38 L411.79,282.69 L412.16,284.13 L412.47,285.68 L412.75,287.33 L412.99,289.10 L413.23,290.98 L413.47,292.98 L413.73,295.09 L414.02,297.30 L414.34,299.66 L414.66,302.21 L415.00,304.89 L415.34,307.65 L415.69,310.43 L416.03,313.17 L416.38,315.81 L416.72,318.31 L417.11,320.67 L417.53,322.92 L417.96,325.07 L418.38,327.13 L418.77,329.14 L419.10,331.11 L419.35,333.07 L419.50,335.07 L419.61,337.11 L419.65,339.18 L419.63,341.26 L419.54,343.34 L419.41,345.44 L419.22,347.54 L418.99,349.66 L418.72,351.76 L418.40,353.99 L417.96,356.39 L417.44,358.88 L416.89,361.34 L416.34,363.68 L415.85,365.79 L415.46,367.57 L415.21,368.92 L415.79,369.08 L416.28,367.81 L416.91,366.10 L417.64,364.06 L418.43,361.78 L419.23,359.36 L420.00,356.90 L420.70,354.49 L421.28,352.24 L421.73,350.09 L422.14,347.96 L422.51,345.81 L422.83,343.66 L423.10,341.49 L423.30,339.32 L423.44,337.14 L423.50,334.93 L423.41,332.73 L423.21,330.58 L422.94,328.47 L422.62,326.37 L422.26,324.27 L421.91,322.14 L421.57,319.96 L421.28,317.69 L420.99,315.24 L420.70,312.61 L420.40,309.88 L420.11,307.10 L419.82,304.33 L419.53,301.64 L419.25,299.07 L418.98,296.70 L418.74,294.51 L418.54,292.43 L418.35,290.42 L418.16,288.49 L417.95,286.61 L417.70,284.80 L417.39,283.03 L417.01,281.31 L416.55,279.68 L416.04,278.19 L415.48,276.80 L414.90,275.52 L414.29,274.31 L413.67,273.15 L413.05,272.02 L412.42,270.86 L411.76,269.67 L411.08,268.51 L410.38,267.37 L409.66,266.26 L408.92,265.13 L408.13,263.98 L407.31,262.78 L406.41,261.49 L405.44,260.09 L404.40,258.62 L403.30,257.12 L402.17,255.58 L401.02,254.01 L399.88,252.44 L398.75,250.87 L397.66,249.31 L396.59,247.75 L395.53,246.16 L394.46,244.54 L393.38,242.89 L392.29,241.22 L391.17,239.53 L390.03,237.84 L388.85,236.15 L387.66,234.48 L386.45,232.81 L385.22,231.14 L383.98,229.47 L382.73,227.80 L381.47,226.14 L380.21,224.49 L378.94,222.86 L377.66,221.25 L376.38,219.64 L375.09,218.03 L373.78,216.42 L372.45,214.82 L371.10,213.23 L369.74,211.65 L368.34,210.09 L366.91,208.56 L365.46,207.08 L364.00,205.63 L362.55,204.21 L361.10,202.82 L359.66,201.43 L358.23,200.05 L356.82,198.66 L355.31,197.16 L353.69,195.54 L352.02,193.87 L350.37,192.22 L348.80,190.65 L347.40,189.24 L346.22,188.06 L345.33,187.17 Z"/>
<path fill="#3b86d3"  d="M408.83,280.62 L409.29,280.94 L409.91,281.39 L410.68,281.95 L411.56,282.59 L412.54,283.25 L413.59,283.89 L414.70,284.49 L415.82,284.97 L416.93,285.34 L418.04,285.65 L419.19,285.92 L420.38,286.14 L421.59,286.32 L422.82,286.45 L424.07,286.53 L425.36,286.57 L426.76,286.53 L428.29,286.41 L429.86,286.23 L431.42,286.02 L432.90,285.79 L434.23,285.58 L435.33,285.41 L436.15,285.29 L435.85,282.71 L435.01,282.78 L433.88,282.90 L432.55,283.05 L431.09,283.19 L429.57,283.33 L428.07,283.42 L426.67,283.46 L425.44,283.43 L424.31,283.34 L423.18,283.20 L422.08,283.03 L421.01,282.82 L419.98,282.57 L418.99,282.29 L418.05,281.97 L417.18,281.63 L416.36,281.23 L415.52,280.72 L414.66,280.13 L413.82,279.50 L413.04,278.87 L412.32,278.28 L411.68,277.76 L411.17,277.38 Z"/>
<path fill="#3b86d3"  d="M370.50,229.93 L371.02,228.85 L371.73,227.37 L372.57,225.61 L373.50,223.67 L374.47,221.65 L375.41,219.65 L376.29,217.79 L377.04,216.16 L377.69,214.74 L378.31,213.40 L378.89,212.11 L379.44,210.88 L379.96,209.70 L380.44,208.56 L380.89,207.46 L381.30,206.37 L381.67,205.28 L381.98,204.20 L382.25,203.18 L382.47,202.23 L382.65,201.37 L382.80,200.63 L382.92,200.04 L383.02,199.58 L378.98,198.42 L378.81,198.91 L378.61,199.53 L378.38,200.23 L378.12,201.01 L377.82,201.83 L377.49,202.69 L377.12,203.56 L376.70,204.43 L376.23,205.33 L375.71,206.29 L375.14,207.29 L374.52,208.35 L373.85,209.47 L373.13,210.66 L372.37,211.91 L371.56,213.24 L370.64,214.73 L369.56,216.46 L368.40,218.31 L367.21,220.20 L366.06,222.01 L365.02,223.66 L364.14,225.05 L363.50,226.07 Z"/>
<path fill="#3b86d3"  d="M382.46,200.24 L382.20,199.62 L381.84,198.81 L381.40,197.86 L380.91,196.80 L380.39,195.69 L379.86,194.56 L379.34,193.47 L378.87,192.45 L378.41,191.47 L377.94,190.46 L377.46,189.44 L376.99,188.43 L376.54,187.44 L376.11,186.49 L375.71,185.60 L375.37,184.78 L375.07,184.00 L374.80,183.24 L374.55,182.51 L374.34,181.81 L374.16,181.18 L374.00,180.61 L373.86,180.13 L373.75,179.75 L373.25,179.85 L373.29,180.23 L373.32,180.73 L373.36,181.32 L373.41,181.99 L373.47,182.73 L373.56,183.52 L373.68,184.36 L373.83,185.22 L374.02,186.14 L374.24,187.12 L374.49,188.15 L374.76,189.22 L375.04,190.31 L375.34,191.41 L375.64,192.49 L375.93,193.55 L376.24,194.64 L376.59,195.81 L376.96,197.02 L377.34,198.20 L377.70,199.31 L378.04,200.31 L378.32,201.14 L378.54,201.76 Z"/>
<path fill="#3b86d3"  d="M383.49,200.22 L383.55,199.44 L383.61,198.40 L383.66,197.18 L383.72,195.82 L383.79,194.40 L383.86,192.95 L383.95,191.56 L384.05,190.26 L384.17,189.00 L384.32,187.69 L384.47,186.37 L384.64,185.05 L384.82,183.76 L385.02,182.52 L385.22,181.34 L385.44,180.27 L385.69,179.25 L385.99,178.24 L386.31,177.27 L386.65,176.35 L386.98,175.50 L387.28,174.75 L387.54,174.11 L387.73,173.61 L387.27,173.39 L387.00,173.85 L386.64,174.42 L386.21,175.11 L385.72,175.90 L385.21,176.77 L384.70,177.71 L384.21,178.70 L383.76,179.73 L383.34,180.82 L382.93,181.99 L382.53,183.23 L382.13,184.51 L381.76,185.82 L381.40,187.14 L381.06,188.45 L380.75,189.74 L380.46,191.08 L380.18,192.51 L379.93,193.98 L379.70,195.43 L379.50,196.79 L379.34,198.01 L379.21,199.02 L379.11,199.78 Z"/>
<path fill="#3b86d3"  d="M380.68,207.70 L381.24,207.51 L381.97,207.25 L382.83,206.94 L383.78,206.60 L384.76,206.24 L385.73,205.90 L386.65,205.59 L387.45,205.33 L388.14,205.14 L388.79,204.99 L389.42,204.85 L390.07,204.73 L390.76,204.61 L391.52,204.47 L392.35,204.30 L393.26,204.09 L394.26,203.85 L395.36,203.61 L396.56,203.34 L397.80,203.05 L399.06,202.74 L400.30,202.39 L401.49,202.00 L402.60,201.56 L403.67,201.04 L404.71,200.43 L405.72,199.77 L406.66,199.10 L407.53,198.45 L408.30,197.86 L408.94,197.37 L409.43,197.01 L409.17,196.59 L408.62,196.86 L407.90,197.24 L407.05,197.69 L406.10,198.17 L405.09,198.67 L404.04,199.13 L403.00,199.53 L402.00,199.84 L400.96,200.07 L399.82,200.25 L398.61,200.40 L397.38,200.52 L396.14,200.63 L394.93,200.72 L393.78,200.81 L392.74,200.91 L391.85,201.00 L391.07,201.05 L390.34,201.09 L389.64,201.13 L388.93,201.17 L388.20,201.24 L387.41,201.33 L386.55,201.47 L385.60,201.65 L384.58,201.88 L383.52,202.14 L382.47,202.42 L381.48,202.69 L380.59,202.94 L379.86,203.15 L379.32,203.30 Z"/>
<path fill="#3b86d3"  d="M385.13,245.62 L384.93,246.87 L384.67,248.54 L384.36,250.54 L384.03,252.75 L383.69,255.08 L383.37,257.42 L383.07,259.66 L382.83,261.70 L382.63,263.62 L382.47,265.53 L382.34,267.41 L382.22,269.24 L382.10,270.99 L381.98,272.67 L381.83,274.23 L381.65,275.69 L381.44,277.04 L381.22,278.31 L380.98,279.48 L380.73,280.58 L380.45,281.62 L380.15,282.61 L379.82,283.56 L379.46,284.49 L379.07,285.37 L378.62,286.22 L378.14,287.04 L377.62,287.82 L377.09,288.57 L376.56,289.27 L376.04,289.94 L375.54,290.55 L375.05,291.11 L374.54,291.62 L374.01,292.10 L373.48,292.53 L372.99,292.92 L372.54,293.26 L372.15,293.56 L371.86,293.79 L372.14,294.21 L372.46,294.02 L372.88,293.80 L373.38,293.53 L373.95,293.22 L374.57,292.86 L375.20,292.44 L375.84,291.97 L376.46,291.45 L377.06,290.89 L377.70,290.29 L378.36,289.64 L379.03,288.93 L379.69,288.17 L380.34,287.34 L380.96,286.46 L381.54,285.51 L382.06,284.54 L382.54,283.55 L383.00,282.51 L383.42,281.42 L383.83,280.27 L384.22,279.04 L384.59,277.73 L384.95,276.31 L385.29,274.77 L385.59,273.13 L385.86,271.41 L386.12,269.64 L386.37,267.82 L386.62,265.98 L386.88,264.14 L387.17,262.30 L387.51,260.31 L387.89,258.11 L388.29,255.80 L388.69,253.50 L389.06,251.29 L389.39,249.30 L389.67,247.63 L389.87,246.38 Z"/>
<path fill="#3b86d3"  d="M381.39,280.54 L381.64,281.29 L381.97,282.29 L382.38,283.49 L382.85,284.83 L383.38,286.26 L383.95,287.72 L384.57,289.17 L385.22,290.55 L385.96,291.95 L386.81,293.45 L387.74,295.00 L388.70,296.52 L389.64,297.96 L390.50,299.24 L391.23,300.31 L391.78,301.11 L392.22,300.89 L391.89,299.97 L391.43,298.76 L390.86,297.32 L390.24,295.73 L389.57,294.07 L388.92,292.42 L388.30,290.86 L387.78,289.45 L387.31,288.10 L386.85,286.67 L386.40,285.22 L385.97,283.79 L385.56,282.46 L385.19,281.25 L384.87,280.24 L384.61,279.46 Z"/>
<path fill="#3b86d3"  d="M416.27,324.69 L415.68,325.24 L414.91,325.99 L414.00,326.89 L413.00,327.89 L411.96,328.95 L410.93,330.03 L409.96,331.06 L409.09,331.99 L408.26,332.89 L407.38,333.84 L406.51,334.79 L405.66,335.73 L404.87,336.61 L404.17,337.41 L403.58,338.09 L403.14,338.61 L403.46,338.99 L404.04,338.63 L404.80,338.16 L405.71,337.59 L406.70,336.95 L407.76,336.24 L408.84,335.50 L409.90,334.75 L410.91,334.01 L411.94,333.21 L413.05,332.31 L414.21,331.36 L415.34,330.38 L416.41,329.44 L417.36,328.58 L418.15,327.86 L418.73,327.31 Z"/>
<path fill="#3b86d3"  d="M421.24,337.63 L422.06,338.01 L423.13,338.51 L424.40,339.09 L425.85,339.74 L427.42,340.42 L429.07,341.11 L430.75,341.77 L432.43,342.39 L434.24,343.01 L436.28,343.66 L438.46,344.31 L440.66,344.94 L442.78,345.52 L444.70,346.02 L446.32,346.43 L447.51,346.73 L447.69,346.27 L446.58,345.71 L445.08,344.98 L443.29,344.12 L441.31,343.18 L439.25,342.22 L437.19,341.28 L435.27,340.39 L433.57,339.61 L432.00,338.86 L430.41,338.09 L428.84,337.32 L427.33,336.57 L425.92,335.88 L424.66,335.27 L423.59,334.75 L422.76,334.37 Z"/>
<path fill="#3b86d3"  d="M444.90,276.53 L445.12,275.94 L445.42,275.17 L445.78,274.24 L446.18,273.17 L446.57,272.00 L446.94,270.78 L447.26,269.52 L447.51,268.27 L447.68,266.94 L447.80,265.47 L447.86,263.93 L447.89,262.38 L447.88,260.90 L447.85,259.57 L447.82,258.45 L447.80,257.62 L447.40,257.58 L447.20,258.39 L446.95,259.48 L446.67,260.78 L446.36,262.22 L446.05,263.71 L445.72,265.18 L445.40,266.55 L445.09,267.73 L444.74,268.82 L444.34,269.93 L443.90,271.05 L443.46,272.13 L443.04,273.15 L442.65,274.06 L442.33,274.86 L442.10,275.47 Z"/>
<path fill="#3b86d3"  d="M447.56,279.28 L448.03,279.08 L448.65,278.79 L449.37,278.44 L450.16,278.06 L450.99,277.65 L451.82,277.24 L452.61,276.86 L453.33,276.53 L454.05,276.23 L454.84,275.93 L455.67,275.63 L456.50,275.33 L457.29,275.05 L457.99,274.80 L458.59,274.57 L459.04,274.40 L458.96,274.00 L458.48,274.01 L457.85,274.01 L457.09,274.02 L456.25,274.05 L455.35,274.11 L454.44,274.19 L453.53,274.31 L452.67,274.47 L451.81,274.68 L450.90,274.96 L449.98,275.27 L449.09,275.61 L448.25,275.94 L447.51,276.26 L446.90,276.52 L446.44,276.72 Z"/>
<path fill="#3b86d3"  d="M441.69,286.49 L441.83,286.86 L442.01,287.37 L442.25,287.99 L442.52,288.68 L442.85,289.42 L443.21,290.16 L443.60,290.88 L444.03,291.55 L444.52,292.18 L445.08,292.81 L445.68,293.42 L446.29,293.99 L446.89,294.51 L447.44,294.97 L447.90,295.34 L448.24,295.62 L448.56,295.38 L448.36,294.97 L448.07,294.44 L447.73,293.82 L447.36,293.14 L446.97,292.43 L446.59,291.72 L446.24,291.05 L445.97,290.45 L445.74,289.85 L445.50,289.18 L445.27,288.47 L445.05,287.76 L444.84,287.07 L444.64,286.45 L444.46,285.92 L444.31,285.51 Z"/>
  <!-- gray spine piece big -->
  <path fill="#bdbdbd" d="M324,190 L332.3,180.3 L339.6,176.6 L342,179.5 L341.6,183.6 L336,192 L333.8,198.5 L327.5,198 L323.5,194 Z"/>
  <!-- catheter big -->
  <path fill="none" stroke="#18416f" stroke-width="1.7" stroke-linecap="round" stroke-linejoin="round"
   d="M328,180 C340,193 352,205 363.3,216.6 C368,222 372,226 376.6,231 C381,237 386,243 389.9,248.8 C394,255 399,262 403.2,268.7 C406,274 408,278 409.9,279.8 C412,282 414,284 416.5,284.3 C422,285 428,285.5 432,285.4"/>
  <!-- tumor big -->
<path fill="#fcd57c" d="M437.5,202.0 A5.1,5.1 0 0 1 445.2,203.8 A6.5,6.5 0 0 1 453.9,207.1 A5.7,5.7 0 0 1 460.9,212.0 A6.8,6.8 0 0 1 468.4,218.3 A6.7,6.7 0 0 1 473.7,226.4 A4.7,4.7 0 0 1 474.8,232.9 A4.4,4.4 0 0 1 472.4,239.1 A6.2,6.2 0 0 1 465.6,247.5 A5.3,5.3 0 0 1 465.0,255.1 A5.6,5.6 0 0 1 467.9,262.3 A8.1,8.1 0 0 1 474.8,271.7 A5.8,5.8 0 0 1 481.4,277.8 A7.3,7.3 0 0 1 490.7,283.5 A5.4,5.4 0 0 1 497.6,289.4 A6.7,6.7 0 0 1 503.7,297.1 A4.7,4.7 0 0 1 505.5,304.1 A5.8,5.8 0 0 1 502.8,313.4 A6.2,6.2 0 0 1 500.5,324.0 A6.4,6.4 0 0 1 501.2,333.3 A7.4,7.4 0 0 1 498.3,343.3 A5.8,5.8 0 0 1 494.3,352.5 A4.8,4.8 0 0 1 491.1,358.8 A6.5,6.5 0 0 1 486.0,368.0 A5.6,5.6 0 0 1 480.9,376.2 A4.9,4.9 0 0 1 477.3,383.5 A4.7,4.7 0 0 1 475.1,390.1 A5.2,5.2 0 0 1 467.7,390.0 A5.1,5.1 0 0 1 468.4,380.9 A6.7,6.7 0 0 1 469.7,370.7 A6.3,6.3 0 0 1 470.5,359.6 A6.9,6.9 0 0 1 470.5,349.4 A6.9,6.9 0 0 1 471.7,338.1 A6.0,6.0 0 0 1 472.5,329.5 A7.6,7.6 0 0 1 471.8,318.8 A5.7,5.7 0 0 1 470.0,310.0 A8.1,8.1 0 0 1 466.2,299.3 A6.7,6.7 0 0 1 462.3,288.9 A4.1,4.1 0 0 1 460.5,282.0 A4.8,4.8 0 0 1 460.7,274.6 A4.4,4.4 0 0 1 461.2,266.9 A6.7,6.7 0 0 1 457.5,256.0 A5.5,5.5 0 0 1 453.8,248.0 A6.4,6.4 0 0 1 449.2,239.2 A4.8,4.8 0 0 1 444.9,232.2 A5.2,5.2 0 0 1 440.1,224.3 A6.0,6.0 0 0 1 435.9,216.7 A5.1,5.1 0 0 1 432.3,209.1 A6.2,6.2 0 0 1 437.5,202.0 Z"/>
<g fill="#f0883a"><circle cx="479.1" cy="315.2" r="1.39"/><circle cx="469.0" cy="283.9" r="1.50"/><circle cx="503.9" cy="301.0" r="1.38"/><circle cx="477.1" cy="322.1" r="1.04"/><circle cx="477.9" cy="290.6" r="1.48"/><circle cx="479.6" cy="370.1" r="1.32"/><circle cx="448.2" cy="225.0" r="1.37"/><circle cx="479.0" cy="355.2" r="1.24"/><circle cx="462.6" cy="279.8" r="1.64"/><circle cx="493.4" cy="328.0" r="1.36"/><circle cx="448.3" cy="214.9" r="1.41"/><circle cx="456.8" cy="250.0" r="1.60"/><circle cx="457.5" cy="239.5" r="1.37"/><circle cx="455.8" cy="225.5" r="1.39"/><circle cx="490.8" cy="320.4" r="1.30"/><circle cx="483.5" cy="281.9" r="1.49"/><circle cx="485.8" cy="309.1" r="1.07"/><circle cx="444.8" cy="206.5" r="1.59"/><circle cx="481.3" cy="360.9" r="1.67"/><circle cx="477.1" cy="345.2" r="1.28"/><circle cx="482.6" cy="345.7" r="1.47"/><circle cx="469.8" cy="293.9" r="1.45"/><circle cx="467.0" cy="274.7" r="1.12"/><circle cx="484.6" cy="330.3" r="1.67"/><circle cx="474.4" cy="330.3" r="1.00"/><circle cx="467.5" cy="241.9" r="1.41"/><circle cx="488.7" cy="345.9" r="1.21"/><circle cx="481.3" cy="303.9" r="1.08"/><circle cx="468.0" cy="268.9" r="1.50"/><circle cx="484.8" cy="315.5" r="1.39"/><circle cx="489.1" cy="340.2" r="1.13"/><circle cx="486.5" cy="357.0" r="1.52"/><circle cx="472.4" cy="312.8" r="1.44"/><circle cx="495.9" cy="334.0" r="1.09"/><circle cx="495.0" cy="316.2" r="1.65"/><circle cx="467.4" cy="222.7" r="1.03"/><circle cx="461.4" cy="234.0" r="1.02"/><circle cx="472.4" cy="377.5" r="1.25"/><circle cx="462.2" cy="245.6" r="1.55"/><circle cx="476.3" cy="337.0" r="1.27"/><circle cx="467.5" cy="231.2" r="1.50"/><circle cx="458.9" cy="215.7" r="1.28"/><circle cx="471.1" cy="237.8" r="1.12"/><circle cx="470.8" cy="303.8" r="1.12"/><circle cx="488.5" cy="290.5" r="1.69"/><circle cx="489.9" cy="298.7" r="1.58"/><circle cx="442.0" cy="212.4" r="1.53"/><circle cx="494.9" cy="304.4" r="1.20"/><circle cx="495.0" cy="342.2" r="1.14"/><circle cx="495.1" cy="295.1" r="1.41"/><circle cx="474.6" cy="358.5" r="1.14"/><circle cx="471.6" cy="389.8" r="1.59"/><circle cx="473.1" cy="275.3" r="1.08"/><circle cx="446.5" cy="232.1" r="1.69"/><circle cx="475.5" cy="381.9" r="1.21"/></g>
</g>
<circle cx="425.4" cy="261" r="122.5" fill="none" stroke="#1b1b2f" stroke-width="2"/>
<!-- label lines -->
<g stroke="#1b1b2f" stroke-width="1.9" fill="none">
  <path d="M402,104 L708,104"/>
  <path d="M367.5,216.3 L708,216.3"/>
  <path d="M449.5,281.2 L708,281.2"/>
  <path d="M280,331 L316,316.8"/>
</g>



<!-- markers big -->
<circle cx="363.3" cy="216.5" r="4.5" fill="#fff" stroke="#1b1b2f" stroke-width="1.6"/>
<path d="M359.8,212.6 L366.8,220.4" stroke="#18416f" stroke-width="1.6"/>
<g>
  <circle cx="440.6" cy="280.8" r="8.6" fill="#b3e0f7" stroke="#111" stroke-width="2"/>
  <g fill="#f7a04d">
    <path d="M439.8,279.4 L436.8,274.2 A7.1,7.1 0 0 1 444.4,274.2 L441.4,279.4 A1.6,1.6 0 0 0 439.8,279.4 Z"/>
    <path d="M442.2,280.8 L448.2,280.8 A7.1,7.1 0 0 1 444.4,287.4 L441.4,282.2 A1.6,1.6 0 0 0 442.2,280.8 Z"/>
    <path d="M439.8,282.2 L436.8,287.4 A7.1,7.1 0 0 1 433,280.8 L439,280.8 A1.6,1.6 0 0 0 439.8,282.2 Z"/>
  </g>
  <circle cx="440.6" cy="280.8" r="1.0" fill="#f7a04d"/>
</g>
<!-- small circle marker -->
<circle cx="272.7" cy="333.8" r="7.3" fill="#fff" stroke="#1b1b2f" stroke-width="1.9"/>

<!-- ============ TEXT ============ -->
<g font-family="Liberation Sans, sans-serif" font-weight="bold" fill="#1b1b2f">
  <text x="369" y="42" font-size="23.3" text-anchor="middle" fill="#111">Brachytherapy</text>
  <text x="703" y="93.9" font-size="14.5" text-anchor="end">Bronchostocope</text>
  <text x="703" y="205.4" font-size="14.5" text-anchor="end" letter-spacing="0.3">Catheter</text>
  <text x="703" y="270.6" font-size="14.5" text-anchor="end" letter-spacing="0.12">Radioactive Source</text>
</g>

<!-- logo -->
<g font-family="Liberation Sans, sans-serif">
  <text x="601.2" y="437.3" font-size="18.6" fill="#1e3448" stroke="#1e3448" stroke-width="0.45" letter-spacing="-0.55">Asbestos</text>
  <circle cx="680.6" cy="435.4" r="3.6" fill="#f39a2b"/>
  <path d="M680.6,433.4 L680.6,437.4 M678.6,435.4 L682.6,435.4" stroke="#fff" stroke-width="1.2"/>
  <text x="686.3" y="437.3" font-size="13.4" fill="#1e3448" stroke="#1e3448" stroke-width="0.35" letter-spacing="0.3">com</text>
  <circle cx="716.8" cy="435.6" r="1.5" fill="none" stroke="#b0b8c0" stroke-width="0.6"/>
</g>
</svg>
</body>
</html>
